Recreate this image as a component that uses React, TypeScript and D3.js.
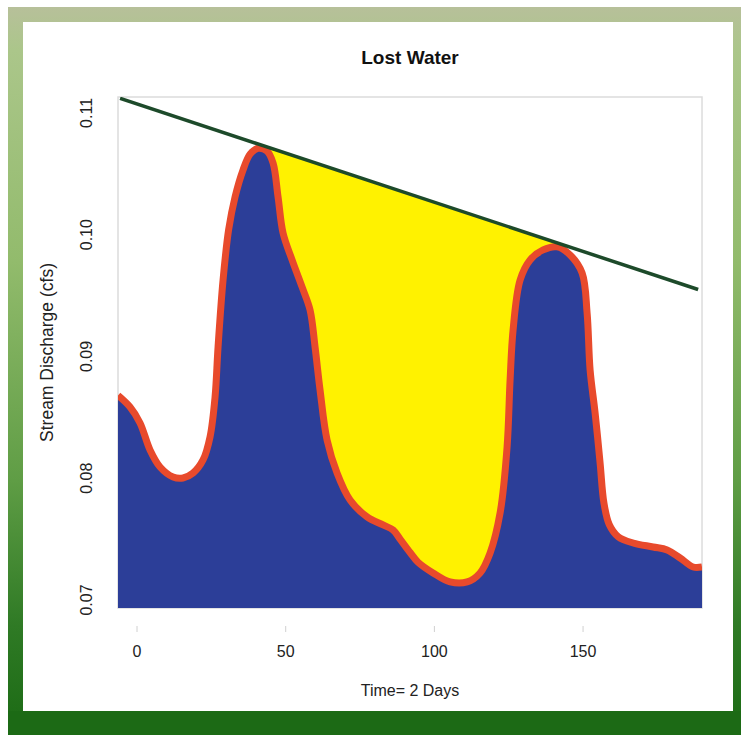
import React from "react";
import * as d3 from "d3";

// Time (2-day steps) and stream discharge (cfs)
const timeVals = [
  -6.4, -2.35, 1.01, 4.37, 7.74, 12.11, 15.47, 18.84, 22.2, 24.55, 26.24, 27.25, 28.93, 30.8,
  32.96, 35.65, 38.01, 40.7, 43.73, 45.75, 47.43, 49.11, 52.14, 55.5, 58.19, 59.87, 61.55,
  63.91, 67.27, 71.65, 77.36, 82.75, 86.11, 88.46, 91.83, 94.5, 99.56, 105.28, 111.0,
  115.37, 118.74, 122.1, 124.45, 125.46, 126.47, 128.83, 132.19, 136.56, 141.27, 145.64,
  149.68, 151.36, 152.37, 154.05, 155.73, 157.0, 158.8, 161.8, 166.83, 173.56, 178.27,
  182.64, 187.01, 190.0,
];
const dischargeVals = [
  0.0868, 0.08585, 0.08454, 0.08232, 0.08092, 0.0801, 0.08002, 0.08043, 0.0815, 0.08339,
  0.08667, 0.09078, 0.09628, 0.10040, 0.1031, 0.10532, 0.10662, 0.1071, 0.10686, 0.10589,
  0.1031, 0.10014, 0.09793, 0.09571, 0.09382, 0.09078, 0.08725, 0.08314, 0.08043, 0.07821,
  0.07682, 0.07616, 0.07575, 0.0750, 0.0739, 0.0731, 0.07222, 0.07148, 0.07148, 0.07222,
  0.07386, 0.07715, 0.08257, 0.08807, 0.09218, 0.09628, 0.09793, 0.09875, 0.099, 0.09834,
  0.09686, 0.09357, 0.08889, 0.08536, 0.08125, 0.0780, 0.0762, 0.0752, 0.07468, 0.07435,
  0.07411, 0.07345, 0.07271, 0.07271,
];

// Straight line joining the two peaks
const trendX = [-5.7, 188.7];
const trendY = [0.1112, 0.0955];
// Lost-water span between the peaks
const lostSpan = [40.7, 141.27];

const xTicks = [0, 50, 100, 150];
const xTickLabels = ["0", "50", "100", "150"];
const yTicks = [0.07, 0.08, 0.09, 0.1, 0.11];
const yTickLabels = ["0.07", "0.08", "0.09", "0.10", "0.11"];

const title = "Lost Water";
const xTitle = "Time= 2 Days";
const yTitle = "Stream Discharge (cfs)";

export default function App() {
  const W = 741;
  const H = 735;
  const left = 118,
    right = 702,
    top = 97,
    bottom = 608;

  const x = d3.scaleLinear().domain([-6.4, 190.0]).range([left, right]);
  const y = d3.scaleLinear().domain([0.06934, 0.11131]).range([bottom, top]);

  const pts: [number, number][] = timeVals.map((t, i) => [t, dischargeVals[i]]);
  const curve = d3.curveCatmullRom.alpha(0.5);

  const area = d3
    .area<[number, number]>()
    .x((d) => x(d[0]))
    .y0(bottom)
    .y1((d) => y(d[1]))
    .curve(curve);
  const line = d3
    .line<[number, number]>()
    .x((d) => x(d[0]))
    .y((d) => y(d[1]))
    .curve(curve);

  const trendAt = (t: number) =>
    trendY[0] + ((t - trendX[0]) / (trendX[1] - trendX[0])) * (trendY[1] - trendY[0]);
  const yellowPts: [number, number][] = [
    [lostSpan[0], trendAt(lostSpan[0])],
    [lostSpan[1], trendAt(lostSpan[1])],
  ];
  const yellowArea = d3
    .area<[number, number]>()
    .x((d) => x(d[0]))
    .y0(bottom)
    .y1((d) => y(d[1]));

  const trendLine = d3
    .line<number>()
    .x((d) => x(d))
    .y((d) => y(trendAt(d)));

  const font = "'Liberation Sans', Arial, Helvetica, sans-serif";

  return (
    <svg
      width={W}
      height={H}
      style={{ position: "absolute", left: 0, top: 0, background: "#fff" }}
    >
      <defs>
        <linearGradient id="frameGrad" x1="0" y1="0" x2="0" y2="1">
          <stop offset="0" stopColor="#b7c09a" />
          <stop offset="0.06" stopColor="#abc68a" />
          <stop offset="0.35" stopColor="#92bb6c" />
          <stop offset="0.65" stopColor="#5f9d45" />
          <stop offset="0.85" stopColor="#2f7a25" />
          <stop offset="1" stopColor="#1b6a14" />
        </linearGradient>
        <clipPath id="plotClip">
          <rect x={left} y={top} width={right - left} height={bottom - top} />
        </clipPath>
      </defs>

      {/* frame */}
      <rect x={8} y={7} width={W - 8} height={H - 7} fill="url(#frameGrad)" />
      <rect x={8} y={711} width={W - 8} height={H - 711} fill="#1c6a15" />
      <rect x={23} y={22} width={733 - 23} height={711 - 22} fill="#ffffff" />

      {/* plot box */}
      <rect
        x={left}
        y={top}
        width={right - left}
        height={bottom - top}
        fill="none"
        stroke="#dcdcdc"
        strokeWidth={1.5}
      />

      <g clipPath="url(#plotClip)">
        <path d={yellowArea(yellowPts) || ""} fill="#fff200" />
        <path d={area(pts) || ""} fill="#2c3e98" />
        <path
          d={line(pts) || ""}
          fill="none"
          stroke="#e84a2c"
          strokeWidth={7}
          strokeLinejoin="round"
        />
        <path d={trendLine(trendX) || ""} fill="none" stroke="#1d4a2a" strokeWidth={3.5} />
      </g>

      {/* x ticks */}
      {xTicks.map((t, i) => (
        <g key={"xt" + i}>
          <line x1={x(t)} x2={x(t)} y1={626} y2={632} stroke="#d0d0d0" strokeWidth={1} />
          <text
            x={x(t)}
            y={657}
            textAnchor="middle"
            fontFamily={font}
            fontSize={16}
            fill="#222"
          >
            {xTickLabels[i]}
          </text>
        </g>
      ))}

      {/* y ticks */}
      {yTicks.map((t, i) => (
        <text
          key={"yt" + i}
          transform={`translate(${92},${y(t)}) rotate(-90)`}
          textAnchor="middle"
          fontFamily={font}
          fontSize={16}
          fill="#222"
        >
          {yTickLabels[i]}
        </text>
      ))}

      <text
        x={(left + right) / 2}
        y={64}
        textAnchor="middle"
        fontFamily={font}
        fontWeight="bold"
        fontSize={19}
        fill="#111"
      >
        {title}
      </text>
      <text
        x={(left + right) / 2}
        y={696}
        textAnchor="middle"
        fontFamily={font}
        fontSize={16}
        fill="#222"
      >
        {xTitle}
      </text>
      <text
        transform={`translate(${53},${(top + bottom) / 2}) rotate(-90)`}
        textAnchor="middle"
        fontFamily={font}
        fontSize={17.5}
        fill="#222"
      >
        {yTitle}
      </text>
    </svg>
  );
}
